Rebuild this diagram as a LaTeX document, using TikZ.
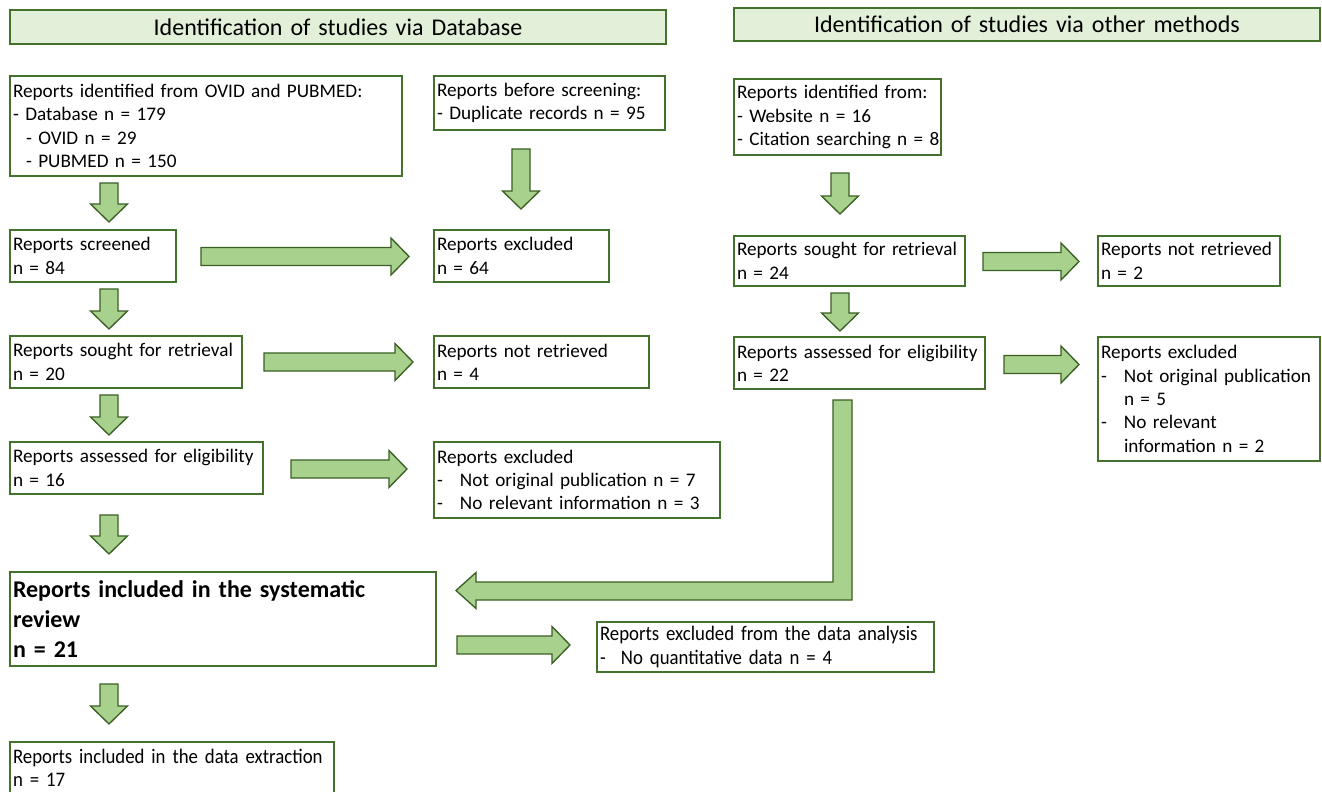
\documentclass[tikz,border=0pt]{standalone}
\usepackage{fontspec}
\setmainfont{Carlito}
\newfontfamily\condfont{Carlito}[FakeStretch=0.91]
\usetikzlibrary{calc}
\definecolor{bord}{HTML}{44722C}
\definecolor{arrline}{HTML}{3A5F24}
\definecolor{arrfill}{HTML}{A9D18E}
\definecolor{headfill}{HTML}{E2EFD9}
\tikzset{
 box/.style={draw=bord, line width=1.5pt, fill=white, rectangle, inner xsep=2.25pt, inner ysep=0pt, align=left, font=\fontsize{14.4}{17.5}\selectfont},
 headbox/.style={box, fill=headfill, align=center, font=\fontsize{18}{20}\selectfont},
 bigbox/.style={box, font=\fontsize{18}{22.5}\selectfont\bfseries},
 smallbox/.style={box, font=\condfont\fontsize{15.5}{17.5}\selectfont},
 blockarrow/.style={draw=arrline, line width=1pt, fill=arrfill, line join=miter},
}
\newcommand\bx[7][]{%
 \pgfmathsetmacro\bw{(#5-#3)*0.75}%
 \pgfmathsetmacro\bh{(#6-#4)*0.75}%
 \pgfmathsetmacro\tw{(#5-#3-6)*0.75}%
 \node[box,#1,minimum width=\bw pt,minimum height=\bh pt,text width=\tw pt] (#2) at ({(#3+#5)/2},{(#4+#6)/2}) {#7};%
}
\newcommand\barrow[2]{%
 \coordinate (ba-s) at #1; \coordinate (ba-e) at #2;
 \coordinate (ba-h) at ($(ba-e)!13.5pt!(ba-s)$);
 \draw[blockarrow] ($(ba-s)!6.75pt!90:(ba-e)$) -- ($(ba-h)!6.75pt!90:(ba-e)$) -- ($(ba-h)!13.875pt!90:(ba-e)$) -- (ba-e) -- ($(ba-h)!13.875pt!-90:(ba-e)$) -- ($(ba-h)!6.75pt!-90:(ba-e)$) -- ($(ba-s)!6.75pt!-90:(ba-e)$) -- cycle;
}
\newcommand\dsh{\makebox[17.25pt][l]{-}}
\newcommand\dshc{\makebox[15.75pt][l]{-}}
\begin{document}
\begin{tikzpicture}[x=0.75pt,y=-0.75pt]
\fill[white] (0,0) rectangle (1322,792);
\useasboundingbox (0,0) rectangle (1322,792);
% headers
\bx[headbox]{h1}{10}{10}{666}{44}{Identification of studies via Database}
\bx[headbox]{h2}{734}{8}{1320}{41}{Identification of studies via other methods}
% database column
\bx{id1}{10}{76}{402}{176}{Reports identified from OVID and PUBMED:\\- Database n = 179\\\hspace*{9.75pt}- OVID n = 29\\\hspace*{9.75pt}- PUBMED n = 150}
\bx{dup}{434}{76}{665}{130}{Reports before screening:\\- Duplicate records n = 95}
\bx{scr}{10}{230}{176}{282}{Reports screened\\n = 84}
\bx{ex1}{434}{230}{609}{282}{Reports excluded\\n = 64}
\bx{sg1}{10}{336}{242}{388}{Reports sought for retrieval\\n = 20}
\bx{nr1}{434}{336}{649}{388}{Reports not retrieved\\n = 4}
\bx{as1}{10}{442}{263}{494}{\mbox{Reports assessed for eligibility}\\n = 16}
\bx{ex2}{434}{442}{720}{518}{Reports excluded\\\dsh Not original publication n = 7\\\dsh No relevant information n = 3}
\bx[bigbox]{inc}{10}{572}{436}{666}{Reports included in the systematic\\review\\n = 21}
\bx[smallbox]{exd}{597}{622}{934}{672}{\mbox{Reports excluded from the data analysis}\\\dshc No quantitative data n = 4}
\bx[smallbox]{ext}{10}{742}{334}{794}{\mbox{Reports included in the data extraction}\\n = 17}
% other methods column
\bx{oth}{734}{79}{941}{155}{Reports identified from:\\- Website n = 16\\\mbox{- Citation searching n = 8}}
\bx{sg2}{734}{236}{965}{286}{Reports sought for retrieval\\n = 24}
\bx{nr2}{1098}{236}{1280}{286}{Reports not retrieved\\n = 2}
\bx{as2}{734}{337}{985}{389}{\mbox{Reports assessed for eligibility}\\n = 22}
\bx{ex3}{1098}{337}{1320}{461}{Reports excluded\\\dsh \mbox{Not original publication}\\\hspace*{17.25pt}n = 5\\\dsh No relevant\\\hspace*{17.25pt}information n = 2}
% arrows database column
\barrow{($(id1.south west)+(100,6)$)}{($(scr.north west)+(100,-7)$)}
\barrow{($(dup.south west)+(88,18)$)}{($(ex1.north west)+(88,-20)$)}
\barrow{($(scr.east)+(24,0.5)$)}{($(ex1.west)+(-24,0.5)$)}
\barrow{($(scr.south west)+(100,6)$)}{($(sg1.north west)+(100,-6)$)}
\barrow{($(sg1.east)+(21,0)$)}{($(nr1.west)+(-20,0)$)}
\barrow{($(sg1.south west)+(100,6)$)}{($(as1.north west)+(100,-6)$)}
\barrow{($(as1.east)+(27,1)$)}{($(as1.east -| ex2.west)+(-26,1)$)}
\barrow{($(as1.south west)+(100,20)$)}{($(inc.north west)+(100,-17)$)}
\barrow{($(inc.east |- exd.west)+(20,-2)$)}{($(exd.west)+(-26,-2)$)}
\barrow{($(inc.south west)+(100,17)$)}{($(ext.north west)+(100,-17)$)}
% arrows other column
\barrow{($(oth.south west)+(107,17)$)}{($(sg2.north west)+(107,-21)$)}
\barrow{($(sg2.east)+(17,0.5)$)}{($(nr2.west)+(-18,0.5)$)}
\barrow{($(sg2.south west)+(107,6)$)}{($(as2.north west)+(107,-5)$)}
\barrow{($(as2.east)+(18,1.5)$)}{($(as2.east -| ex3.west)+(-18,1.5)$)}
% bent arrow to included
\coordinate (bt) at ($(as2.south west)+(109.5,10)$);
\coordinate (btip) at ($(inc.east)+(19,-28.5)$);
\draw[blockarrow] ($(bt)+(-9.5,0)$) -- ($(bt)+(9.5,0)$) -- ($(bt |- btip)+(9.5,9.5)$) -- ($(btip)+(20,9.5)$) -- ($(btip)+(20,18)$) -- (btip) -- ($(btip)+(20,-18)$) -- ($(btip)+(20,-8.5)$) -- ($(bt |- btip)+(-9.5,-8.5)$) -- cycle;
\end{tikzpicture}
\end{document}
